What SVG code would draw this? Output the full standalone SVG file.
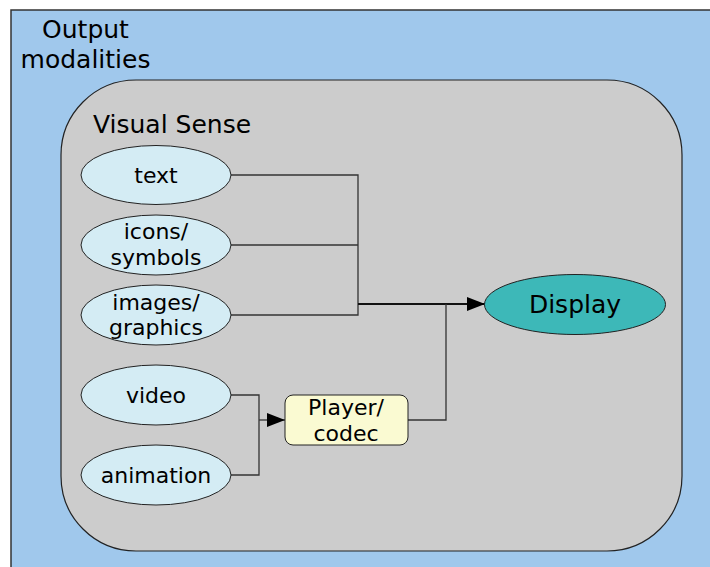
<svg xmlns="http://www.w3.org/2000/svg" width="710" height="567" viewBox="0 0 710 567">
<defs>
<style>
text{font-family:"DejaVu Sans",sans-serif;fill:#000;text-anchor:middle}
.src ellipse{fill:#d4ecf4;stroke:#222;stroke-width:1}
.conn path{fill:none;stroke:#333;stroke-width:1.3}
.lbl{font-size:22px}
.big{font-size:25px}
</style>
<marker id="arr" markerWidth="18" markerHeight="14" refX="18" refY="7" orient="auto" markerUnits="userSpaceOnUse">
<path d="M0,0 L18,7 L0,14 Z" fill="#000"/>
</marker>
</defs>
<g id="outer">
<rect x="11" y="10" width="710" height="600" fill="#a0c8ec" stroke="#333" stroke-width="1.5"/>
<text class="big" x="85.5" y="38">Output</text>
<text class="big" x="85.5" y="68">modalities</text>
</g>
<g id="visual">
<rect x="61" y="80" width="621" height="471" rx="75" ry="75" fill="#cccccc" stroke="#222" stroke-width="1.2"/>
<text class="big" x="172" y="133">Visual Sense</text>
</g>
<g class="conn" id="connectors">
<path d="M231,175 H358 V315 H231"/>
<path d="M231,245 H358"/>
<path d="M358,304 H485" style="stroke:#111;stroke-width:2" marker-end="url(#arr)"/>
<path d="M408,420 H446 V304"/>
<path d="M231,395 H259 V475 H231"/>
<path d="M259,420 H285" marker-end="url(#arr)"/>
</g>
<g class="src" id="n-text"><ellipse cx="156" cy="175" rx="75" ry="29.5"/><text class="lbl" x="156" y="183">text</text></g>
<g class="src" id="n-icons"><ellipse cx="156" cy="245" rx="75" ry="30"/><text class="lbl" x="156" y="239">icons/</text><text class="lbl" x="156" y="265">symbols</text></g>
<g class="src" id="n-images"><ellipse cx="156" cy="315" rx="75" ry="30"/><text class="lbl" x="156" y="310">images/</text><text class="lbl" x="156" y="335">graphics</text></g>
<g class="src" id="n-video"><ellipse cx="156" cy="395" rx="75" ry="30"/><text class="lbl" x="156" y="403">video</text></g>
<g class="src" id="n-animation"><ellipse cx="156" cy="475" rx="75" ry="30"/><text class="lbl" x="156" y="483">animation</text></g>
<g id="n-player"><rect x="285" y="395" width="123" height="50" rx="8" ry="8" fill="#fafad2" stroke="#222"/><text class="lbl" x="346" y="415">Player/</text><text class="lbl" x="346" y="441">codec</text></g>
<g id="n-display"><ellipse cx="575" cy="304.5" rx="90.5" ry="30" fill="#3db8b8" stroke="#222"/><text class="big" x="575" y="313">Display</text></g>
</svg>
